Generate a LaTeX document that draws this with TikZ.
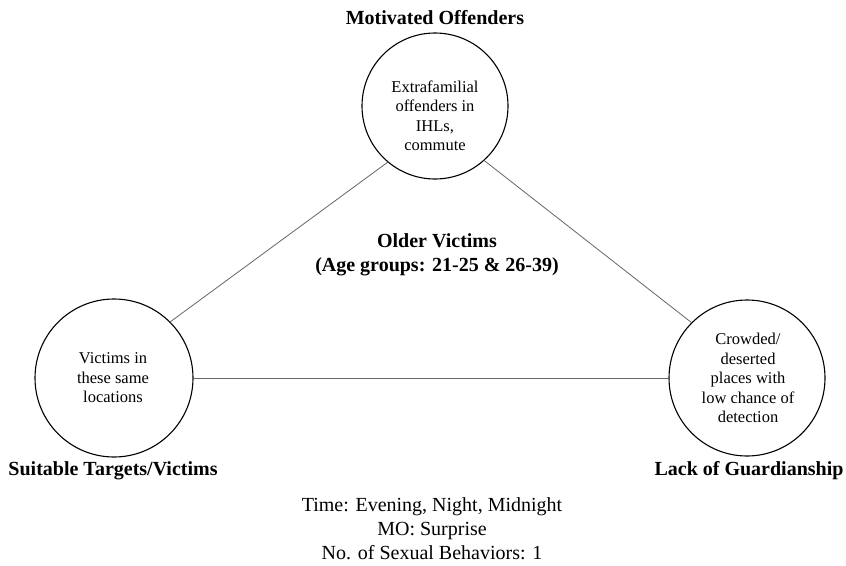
\documentclass[tikz,border=0pt]{standalone}
\usepackage{fontspec}
\setmainfont{Liberation Serif}
\begin{document}
\begin{tikzpicture}[x=1pt,y=-1pt,
 ring/.style={circle,draw=black,line width=1.1pt,inner sep=0pt,outer sep=0pt},
 conn/.style={draw=black!60,line width=0.8pt},
 head/.style={font=\fontsize{20}{24}\selectfont\bfseries,align=center,inner sep=0pt},
 body/.style={font=\fontsize{16.5}{19.5}\selectfont,align=center,inner sep=0pt},
 foot/.style={font=\fontsize{20}{24}\selectfont,align=center,inner sep=0pt}]
\useasboundingbox[fill=white] (0,0) rectangle (846,565);
\node[ring,minimum size=146pt] (mo) at (435,106) {};
\node[ring,minimum size=158pt] (st) at (114,378) {};
\node[ring,minimum size=156pt] (lg) at (747,378) {};
\draw[conn] (mo.230) -- (st.45);
\draw[conn] (mo.312) -- (lg.135);
\draw[conn] (st.east) -- (lg.west);
\node[body] (motext) at (435,116) {Extrafamilial\\offenders in\\IHLs,\\commute};
\node[body] (sttext) at (113,378) {Victims in\\these same\\locations};
\node[body] (lgtext) at (748,378) {Crowded/\\deserted\\places with\\low chance of\\detection};
\node[head] (molab) at (435,18) {Motivated Offenders};
\node[head] (stlab) at (113,471) {Suitable Targets/Victims};
\node[head] (lglab) at (749,471) {Lack of Guardianship};
\node[head] (center) at (437,255) {Older Victims\\(Age groups: 21-25 \& 26-39)};
\node[foot] (foot) at (432,529) {Time: Evening, Night, Midnight\\MO: Surprise\\No. of Sexual Behaviors: 1};
\end{tikzpicture}
\end{document}
